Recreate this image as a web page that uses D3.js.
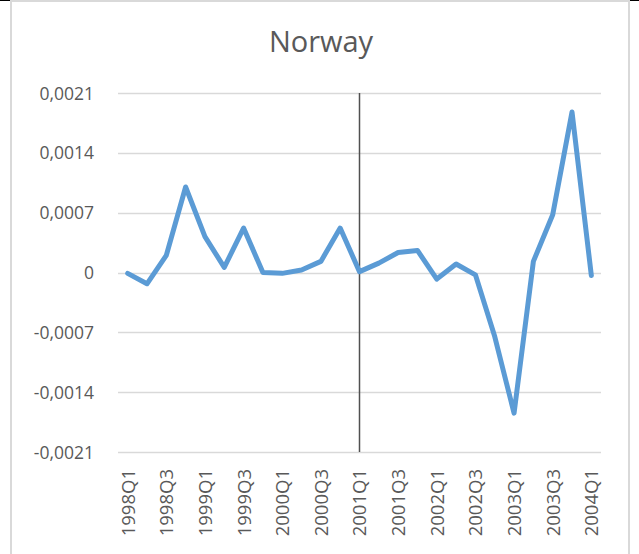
<!DOCTYPE html>
<html>
<head>
<meta charset="utf-8">
<script src="https://cdn.jsdelivr.net/npm/d3@7"></script>
<style>
  html, body { margin: 0; padding: 0; background: #fff; }
  svg { display: block; }
</style>
</head>
<body>
<svg id="chart" width="639" height="554"></svg>
<script>
// ---- Data ----
const categories = [
  "1998Q1","1998Q2","1998Q3","1998Q4",
  "1999Q1","1999Q2","1999Q3","1999Q4",
  "2000Q1","2000Q2","2000Q3","2000Q4",
  "2001Q1","2001Q2","2001Q3","2001Q4",
  "2002Q1","2002Q2","2002Q3","2002Q4",
  "2003Q1","2003Q2","2003Q3","2003Q4",
  "2004Q1"
];
const values = [
  -0.00001, -0.000132, 0.0002, 0.001,
  0.00042, 0.00006, 0.00052, 0.0,
  -0.00001, 0.00003, 0.00013, 0.00052,
  0.00001, 0.00011, 0.000234, 0.000258,
  -0.000077, 0.0001, -0.000027, -0.00075,
  -0.001646, 0.00013, 0.000675, 0.001878,
  -0.000035
];
const yTicks = [0.0021, 0.0014, 0.0007, 0, -0.0007, -0.0014, -0.0021];
const xTickLabels = ["1998Q1","1998Q3","1999Q1","1999Q3","2000Q1","2000Q3",
  "2001Q1","2001Q3","2002Q1","2002Q3","2003Q1","2003Q3","2004Q1"];
const markerCategory = "2001Q1";
const title = "Norway";

// ---- Drawing ----
const svg = d3.select("#chart");
const font = "'Open Sans', sans-serif";
const textColor = "#595959";

// frame
svg.append("rect").attr("x", 0).attr("y", 0).attr("width", 639).attr("height", 554).attr("fill", "#fff");
svg.append("line").attr("x1", 11).attr("x2", 11).attr("y1", 0).attr("y2", 554)
  .attr("stroke", "#d9d9d9").attr("stroke-width", 2);
svg.append("line").attr("x1", 629).attr("x2", 629).attr("y1", 0).attr("y2", 554)
  .attr("stroke", "#d9d9d9").attr("stroke-width", 2);
svg.append("line").attr("x1", 10).attr("x2", 630).attr("y1", 1).attr("y2", 1)
  .attr("stroke", "#d9d9d9").attr("stroke-width", 2);
svg.append("line").attr("x1", 0).attr("x2", 10).attr("y1", 0.5).attr("y2", 0.5)
  .attr("stroke", "#000").attr("stroke-width", 1);
svg.append("line").attr("x1", 630).attr("x2", 639).attr("y1", 0.5).attr("y2", 0.5)
  .attr("stroke", "#000").attr("stroke-width", 1);

const x = d3.scalePoint().domain(categories).range([118, 601]).padding(0.5);
const y = d3.scaleLinear().domain([-0.0021, 0.0021]).range([452, 93]);

const locale = d3.formatLocale({decimal: ",", thousands: ".", grouping: [3], currency: ["", ""], minus: "-"});
const fmt = v => v === 0 ? "0" : locale.format(".4f")(v);

// gridlines
svg.append("g").selectAll("line").data(yTicks).join("line")
  .attr("x1", 118).attr("x2", 601)
  .attr("y1", d => Math.round(y(d)) + 0.5).attr("y2", d => Math.round(y(d)) + 0.5)
  .attr("stroke", "#d9d9d9").attr("stroke-width", 1.5);

// y axis labels
const yAxis = d3.axisLeft(y).tickValues(yTicks).tickFormat(fmt).tickSize(0).tickPadding(0);
const gy = svg.append("g").attr("transform", "translate(94,0)").call(yAxis);
gy.select(".domain").remove();
gy.selectAll("text").attr("font-family", font).attr("font-size", 17.5)
  .attr("fill", textColor).attr("dy", "0.35em");

// x axis labels
const xAxis = d3.axisBottom(x).tickValues(xTickLabels).tickSize(0).tickPadding(0);
const gx = svg.append("g").attr("transform", "translate(0,469)").call(xAxis);
gx.select(".domain").remove();
gx.selectAll("text").attr("font-family", font).attr("font-size", 18.5)
  .attr("fill", textColor)
  .attr("transform", "rotate(-90)")
  .attr("text-anchor", "end")
  .attr("x", 0).attr("y", 0).attr("dy", "0.35em");

// vertical marker
svg.append("line")
  .attr("x1", x(markerCategory)).attr("x2", x(markerCategory))
  .attr("y1", y(0.0021)).attr("y2", y(-0.0021))
  .attr("stroke", "#505050").attr("stroke-width", 1.5);

// series line
const line = d3.line().x((d, i) => x(categories[i])).y(d => y(d));
svg.append("path").datum(values)
  .attr("d", line)
  .attr("fill", "none")
  .attr("stroke", "#5b9bd5")
  .attr("stroke-width", 5)
  .attr("stroke-linejoin", "round")
  .attr("stroke-linecap", "round");

// title
svg.append("text").attr("x", 321).attr("y", 52)
  .attr("text-anchor", "middle")
  .attr("font-family", font).attr("font-size", 29)
  .attr("fill", textColor).text(title);
</script>
</body>
</html>
